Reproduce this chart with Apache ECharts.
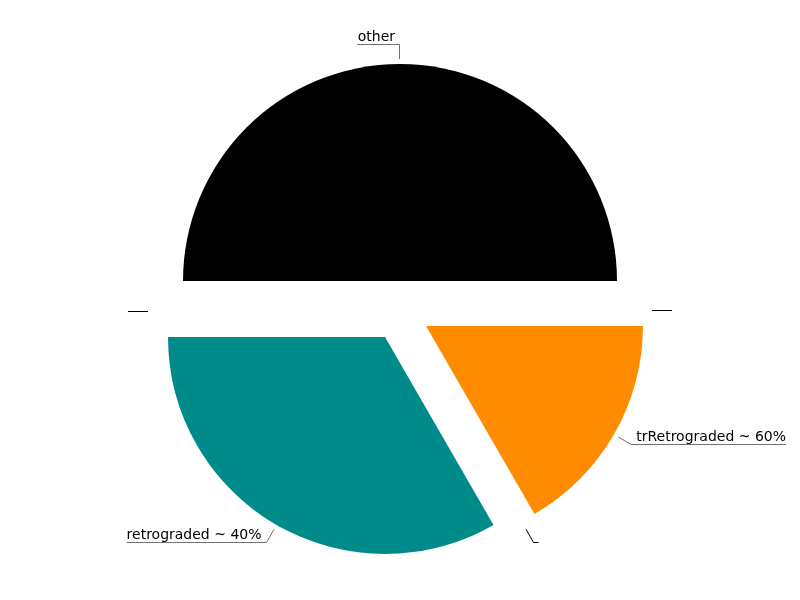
<!DOCTYPE html>
<html>
<head>
<meta charset="utf-8">
<script src="https://cdn.jsdelivr.net/npm/echarts@6/dist/echarts.min.js"></script>
<style>
  html, body { margin: 0; padding: 0; background: #fff; }
  #main { width: 800px; height: 600px; }
</style>
</head>
<body>
<div id="main"></div>
<script>
// slices in drawing order (clockwise from the left edge)
const sliceNames = ['other', '', 'trRetrograded ~ 60%', '', 'retrograded ~ 40%', ''];
const sliceValues = [3, 0, 1, 0, 2, 0];
const sliceColors = ['#000000', '#000000', '#ff8c00', '#000000', '#008b8b', '#000000'];

const chart = echarts.init(document.getElementById('main'), null, { renderer: 'canvas' });

const pieData = sliceNames.map((name, i) => ({
  name: name,
  value: sliceValues[i],
  selected: true,
  itemStyle: { color: sliceColors[i] },
  labelLine: { lineStyle: { color: name ? '#707070' : '#000' } }
}));

// put a 1px line on a pixel centre
const snap = (v) => Math.floor(v) + 0.5;

chart.setOption({
  animation: false,
  series: [
    {
      type: 'pie',
      center: [400, 311],
      radius: 217,
      startAngle: 180,
      clockwise: true,
      selectedMode: 'multiple',
      selectedOffset: 30,
      avoidLabelOverlap: false,
      minShowLabelAngle: -1,
      data: pieData,
      label: {
        show: true,
        position: 'outer',
        formatter: '{b}',
        color: '#000',
        fontFamily: 'DejaVu Sans',
        fontSize: 14,
        distanceToLabelLine: 0
      },
      labelLine: {
        show: true,
        length: 20,
        length2: 5,
        lineStyle: { width: 1 }
      },
      labelLayout: function (params) {
        const pts = params.labelLinePoints;
        if (!pts) return {};
        const p0 = pts[0], p1 = pts[1];
        const dx = p1[0] - p0[0], dy = p1[1] - p0[1];
        const len = Math.sqrt(dx * dx + dy * dy) || 1;
        const ux = dx / len, uy = dy / len;
        const left = ux < 0.01;
        const vertical = Math.abs(ux) < 0.01;
        const y = snap(p1[1]);
        const x1 = vertical ? snap(p1[0]) : p1[0];
        const start = [vertical ? x1 : p0[0] + ux * 5, Math.abs(uy) < 0.01 ? y : p0[1] + uy * 5];
        const mid = [x1, y];
        const endX = x1 + (left ? -5 : 5);
        const w = params.text ? params.labelRect.width : 0;
        const tail = [endX + (left ? -w : w), y];
        return {
          x: endX,
          y: y - 2,
          align: left ? 'right' : 'left',
          verticalAlign: 'bottom',
          labelLinePoints: [start, mid, tail]
        };
      }
    }
  ]
});
</script>
</body>
</html>
